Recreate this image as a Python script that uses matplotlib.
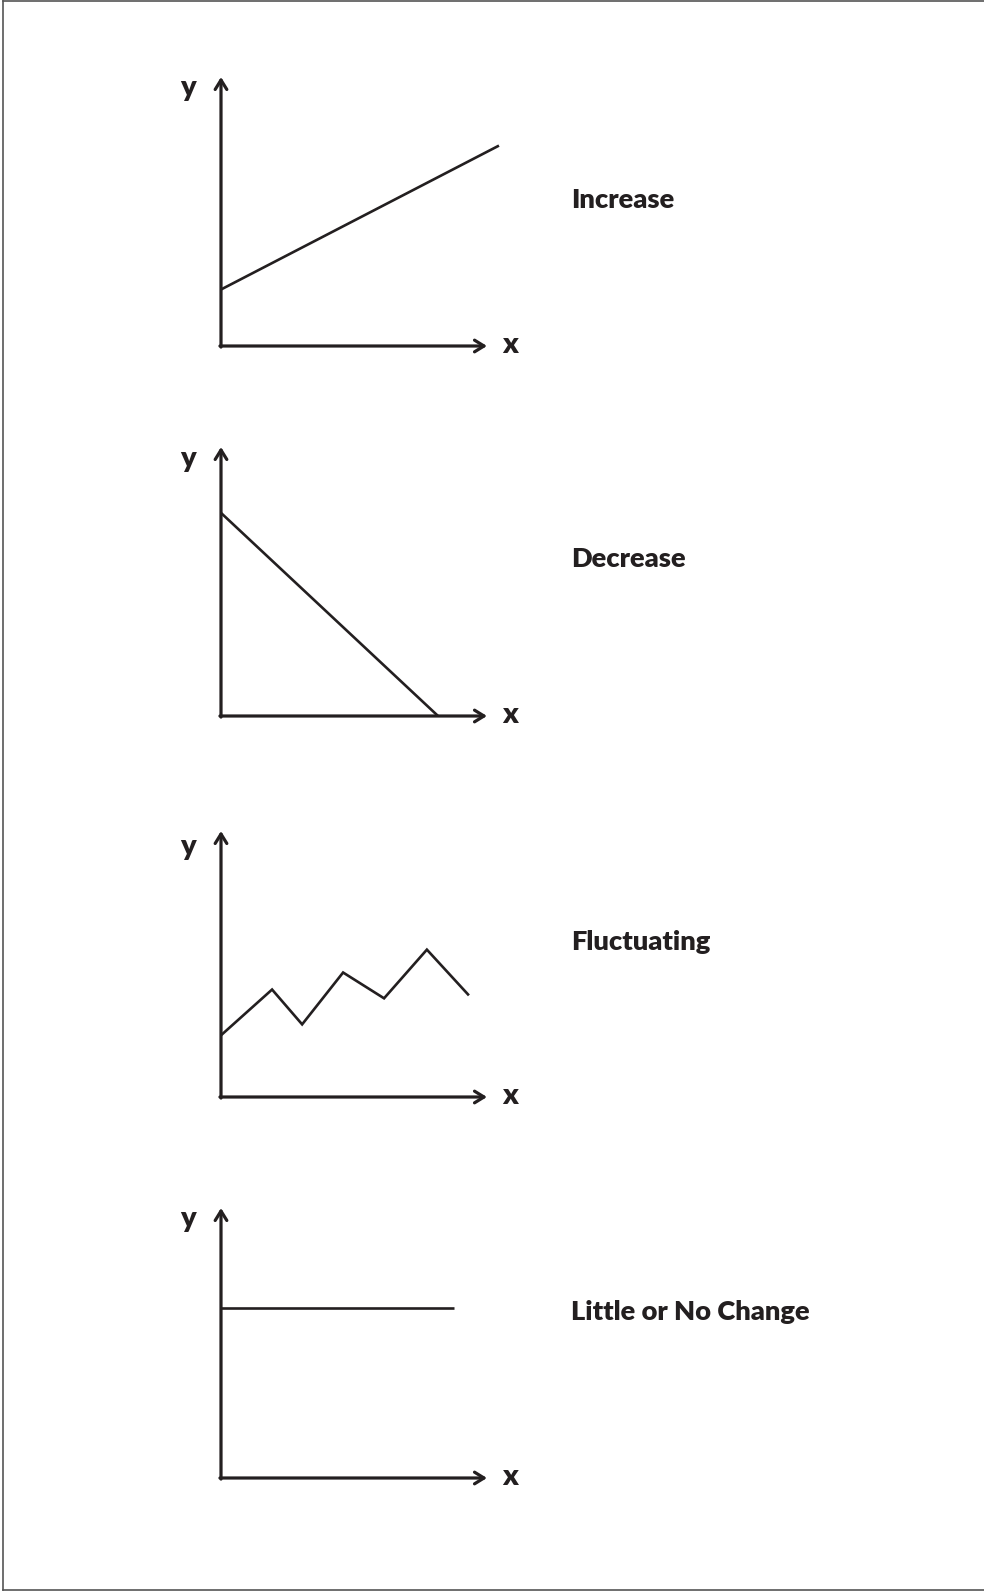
import numpy as np
import matplotlib.pyplot as plt
from matplotlib.lines import Line2D

W, H = 984, 1592
INK = '#231f20'

# trend data (axis units: x and y both run 0..10 up to the arrow tips)
inc_x = [0, 10.45]
inc_y = [2.10, 7.45]

dec_x = [0, 8.16]
dec_y = [7.55, 0]

flu_x = [0, 1.92, 3.05, 4.59, 6.13, 7.74, 9.32]
flu_y = [2.32, 4.04, 2.73, 4.68, 3.71, 5.54, 3.82]

flat_x = [0, 8.76]
flat_y = [6.31, 6.31]

titles = ['Increase', 'Decrease', 'Fluctuating', 'Little or No Change']
series = [(inc_x, inc_y), (dec_x, dec_y), (flu_x, flu_y), (flat_x, flat_y)]

# pixel layout: origin y, arrow-top y, title baseline, y-label baseline
origins = [346, 716, 1097, 1478]
tops = [77, 447, 831, 1208]
title_base = [208, 567, 950, 1320]
ylab_base = [96, 467, 855, 1227]
x0, x1 = 221, 487

plt.rcParams['font.family'] = ['Lato', 'DejaVu Sans']

fig = plt.figure(figsize=(W / 100, H / 100), dpi=100)


def fx(px):
    return px / W


def fy(py):
    return 1 - py / H


for i, (xs, ys) in enumerate(series):
    ax = fig.add_axes([fx(x0), fy(origins[i]), fx(x1) - fx(x0),
                       fy(tops[i]) - fy(origins[i])])
    ax.set_xlim(0, 10)
    ax.set_ylim(0, 10)
    ax.axis('off')
    ax.plot(xs, ys, color=INK, lw=1.9, clip_on=False,
            solid_joinstyle='miter', solid_capstyle='butt')
    arrow = dict(arrowstyle='->,head_length=0.34,head_width=0.21',
                 color=INK, lw=2.3, mutation_scale=20,
                 shrinkA=0, shrinkB=0)
    ax.annotate('', xy=(1, 0), xytext=(-0.004, 0), xycoords='axes fraction',
                arrowprops=arrow)
    ax.annotate('', xy=(0, 1), xytext=(0, -0.004), xycoords='axes fraction',
                arrowprops=arrow)

    fig.text(fx(188), fy(ylab_base[i]), 'y', fontsize=21, fontweight='heavy',
             color=INK, ha='center', va='baseline')
    fig.text(fx(510), fy(origins[i] + 7), 'x', fontsize=21, fontweight='heavy',
             color=INK, ha='center', va='baseline')
    fig.text(fx(571), fy(title_base[i]), titles[i], fontsize=19.6,
             fontweight='heavy', color=INK, ha='left', va='baseline')

# thin frame round the page
frame = [([3, 3], [1, 1590]), ([3, 990], [1, 1]), ([3, 990], [1590, 1590])]
for px, py in frame:
    fig.add_artist(Line2D([fx(p) for p in px], [fy(p) for p in py],
                          color='#555555', lw=1.2))

fig.savefig('out.png', dpi=100, facecolor='white')
